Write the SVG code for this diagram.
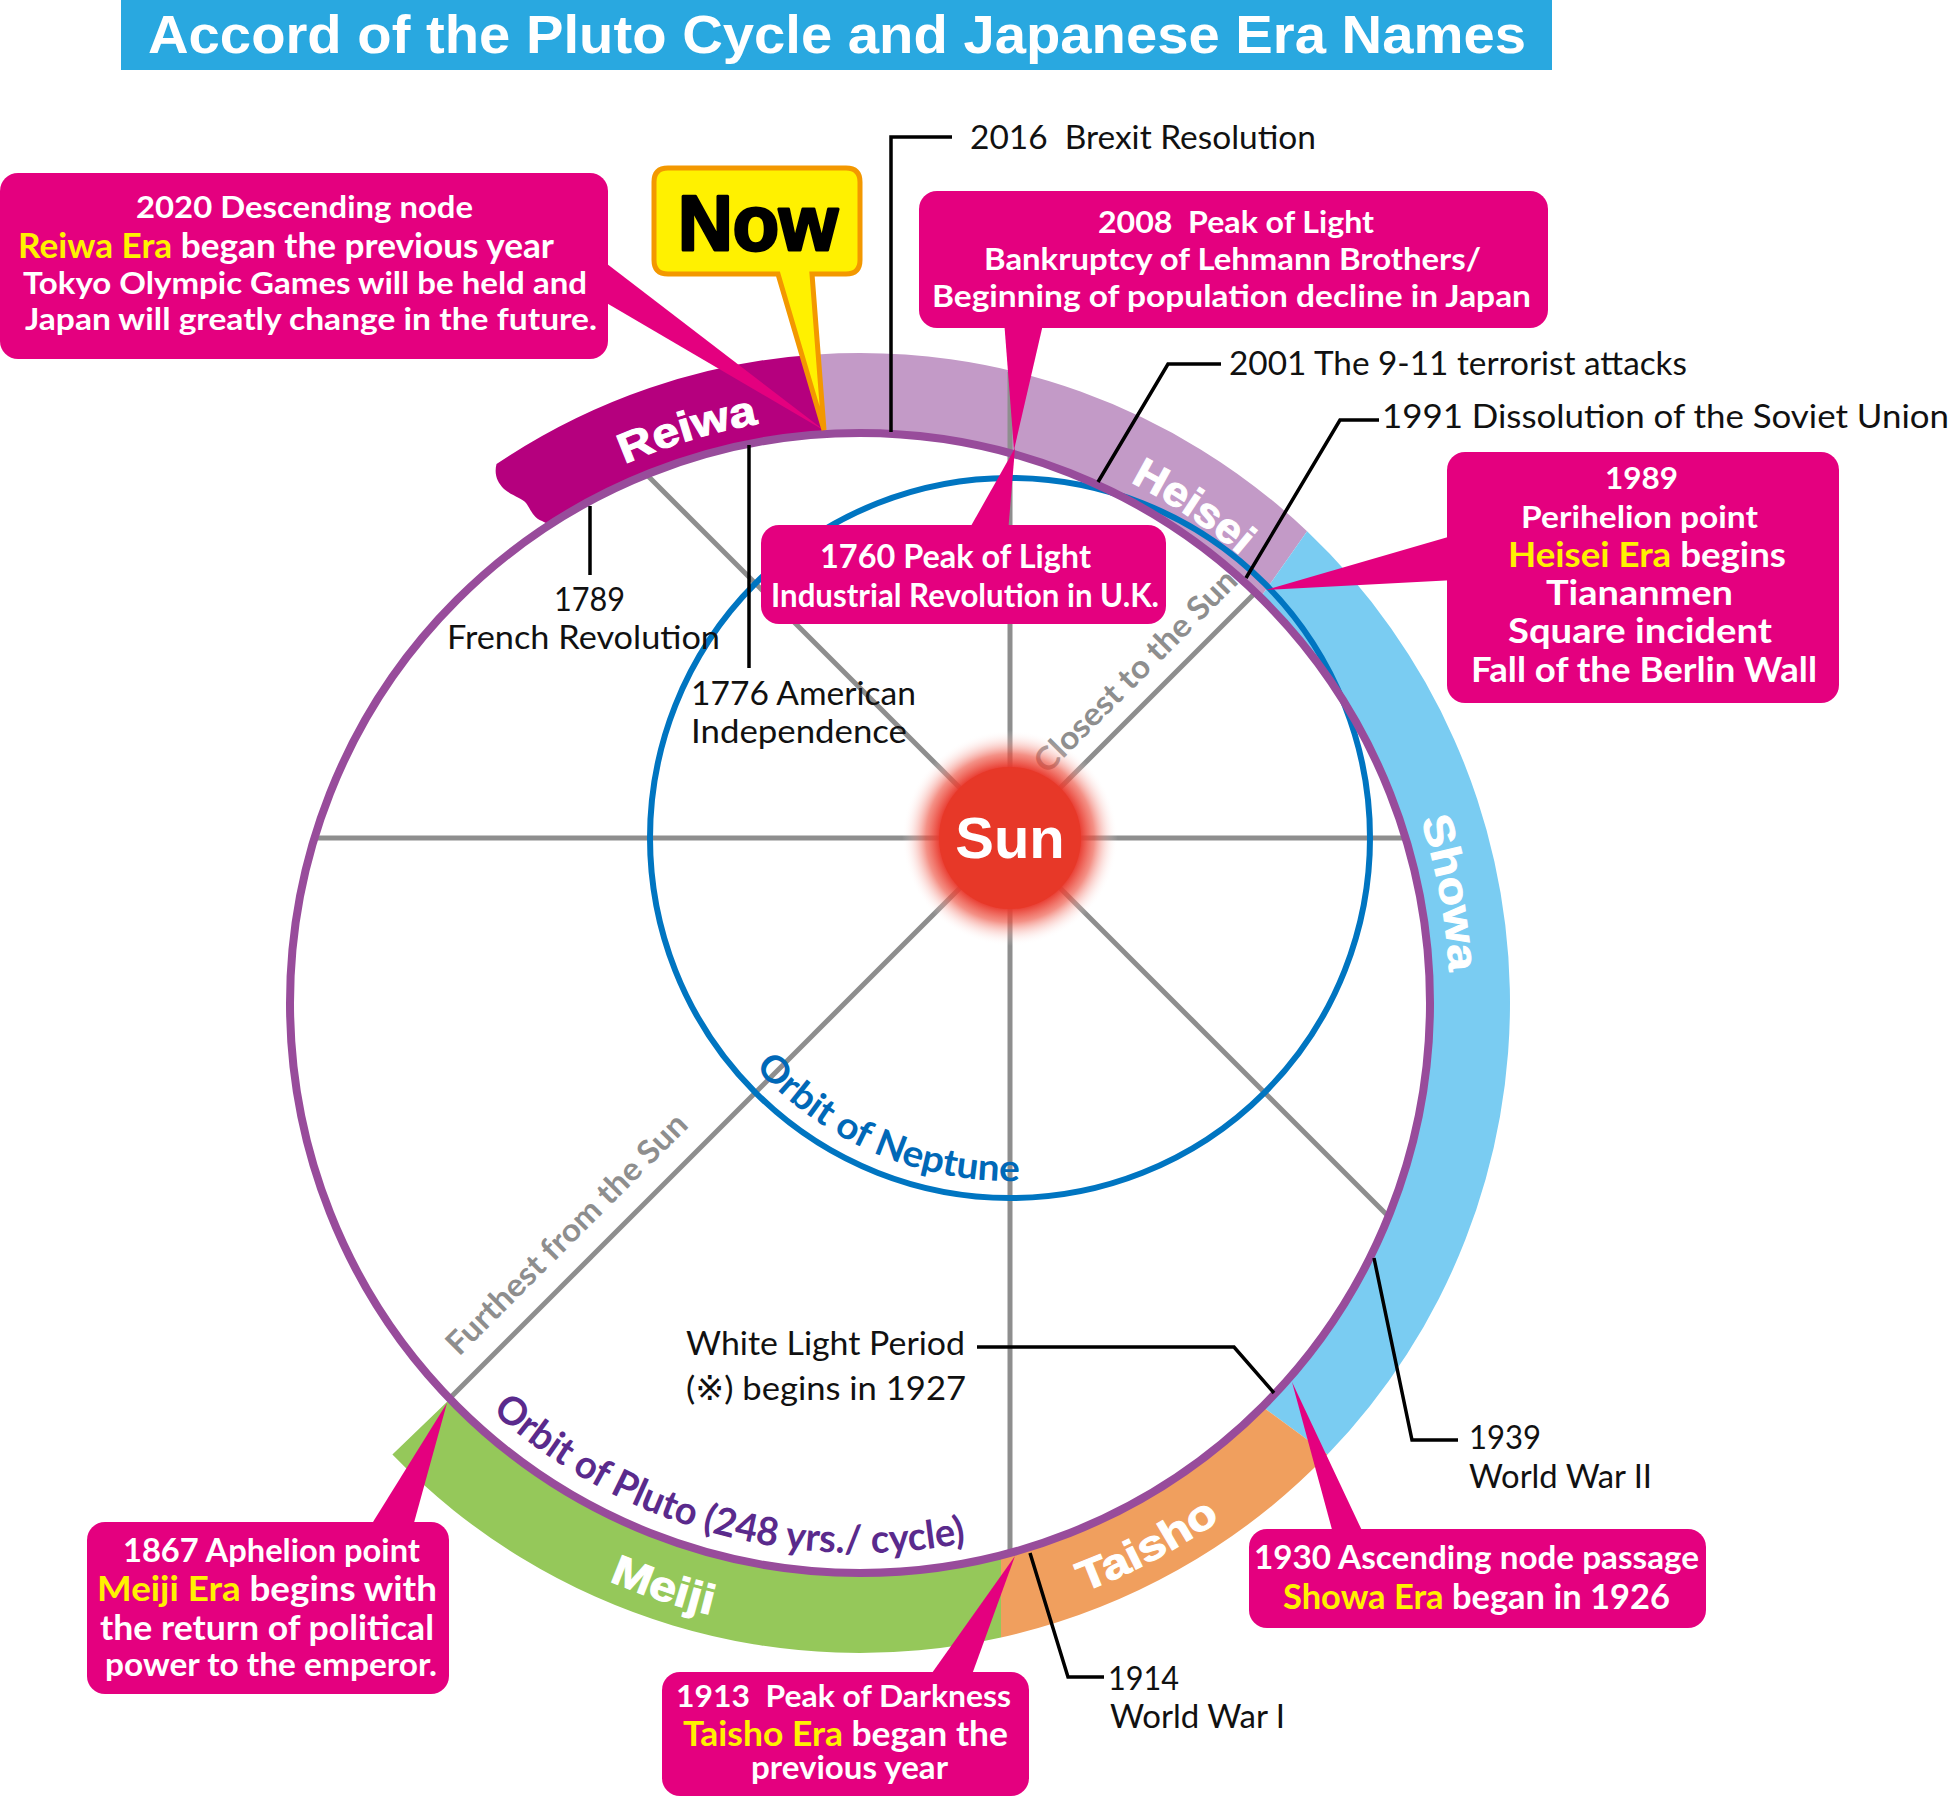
<svg xmlns="http://www.w3.org/2000/svg" width="1953" height="1799" viewBox="0 0 1953 1799">
<style>
.lbl{font-family:Lato,"Open Sans","Noto Sans",sans-serif;font-size:33px;fill:#111;}
.co{font-family:Lato,"Open Sans","Noto Sans",sans-serif;font-weight:700;fill:#fff;}
.yl{fill:#FFF100;}
.box{fill:#E4007F;}
.era{font-family:"Liberation Sans",Arial,sans-serif;font-weight:bold;font-size:42px;fill:#fff;stroke:#fff;stroke-width:1;}
.spoke{stroke:#8E8E8E;stroke-width:5;fill:none;}
.conn{stroke:#000;stroke-width:3.5;fill:none;}
.diag{font-family:Lato,"Open Sans","Noto Sans",sans-serif;font-weight:bold;font-size:32px;fill:#8E8E8E;}
.orb{font-family:Lato,"Open Sans","Noto Sans",sans-serif;font-weight:bold;}
</style>
<defs>
<radialGradient id="glow" cx="0.5" cy="0.5" r="0.5">
<stop offset="0.64" stop-color="#E8352A" stop-opacity="1"/>
<stop offset="0.78" stop-color="#EE5545" stop-opacity="0.65"/>
<stop offset="1" stop-color="#FFFFFF" stop-opacity="0"/>
</radialGradient>
<path id="pNep" d="M 755.1 1067.5 A 343 343 0 0 0 1069.6 1175.8"/>
<path id="pPlu" d="M 492 1411.7 A 549 549 0 0 0 1048.1 1519.8"/>
<path id="pRei" d="M 624.6 464.2 A 588 588 0 0 1 911.2 417.2"/>
<path id="pHei" d="M 1130.1 481.9 A 587 587 0 0 1 1368.4 709.5"/>
<path id="pSho" d="M 1420.8 819.7 A 590 590 0 0 1 1414.4 1204.8"/>
<path id="pTai" d="M 1083.7 1591.9 A 630 630 0 0 0 1452 1218.5"/>
<path id="pMei" d="M 608.8 1580.8 A 630 630 0 0 0 1175 1548.6"/>
</defs>

<g id="title">
<rect x="121" y="0" width="1431" height="70" fill="#29A8E0"/>
<text x="148" y="53" font-family="'Liberation Sans',Arial,sans-serif" font-weight="bold" font-size="54" fill="#fff" textLength="1378" lengthAdjust="spacingAndGlyphs">Accord of the Pluto Cycle and Japanese Era Names</text>
</g>

<g id="bands">
<path id="band-reiwa" fill="#B5007E" d="M 496.5 464.1 A 650 650 0 0 1 816.9 354.4 L 825.2 434.1 A 570 570 0 0 0 549.6 524.9 L 542 521 C 533 518 530 508 526 503 C 522 498 512 496 504 489 C 497 482 494 474 496.5 464.1 Z"/>
<path id="band-heisei" fill="#C39AC7" d="M 816.9 354.4 A 650 650 0 0 1 1307.1 531.2 L 1260.5 597.4 A 570 570 0 0 0 825.2 434.1 Z"/>
<path id="band-showa" fill="#7ACCF2" d="M 1307.1 531.2 A 650 650 0 0 1 1327.5 1454.6 L 1262.4 1406.7 A 570 570 0 0 0 1260.5 597.4 Z"/>
<path id="band-taisho" fill="#F09F5E" d="M 1327.5 1454.6 A 650 650 0 0 1 1001 1637.5 L 1001 1555.3 A 570 570 0 0 0 1262.4 1406.7 Z"/>
<path id="band-meiji" fill="#95C85A" d="M 1001 1637.5 A 650 650 0 0 1 392.4 1454.6 L 450 1399 A 570 570 0 0 0 1001 1555.3 Z"/>
</g>

<g id="spokes">
<line class="spoke" x1="1010" y1="838" x2="1405.6" y2="838"/>
<line class="spoke" x1="1010" y1="838" x2="314.4" y2="838"/>
<line class="spoke" x1="1010" y1="838" x2="1010" y2="372"/>
<line class="spoke" x1="1010" y1="838" x2="1010" y2="1552.9"/>
<line class="spoke" x1="1010" y1="838" x2="646.5" y2="474.5"/>
<line class="spoke" x1="1010" y1="838" x2="1255.5" y2="592.5"/>
<line class="spoke" x1="1010" y1="838" x2="1388.5" y2="1216.5"/>
<line class="spoke" x1="1010" y1="838" x2="449.5" y2="1398.5"/>
</g>

<g id="neptune-orbit">
<circle cx="1010" cy="838" r="360" fill="none" stroke="#0075C1" stroke-width="6"/>
<text class="orb" font-size="37" fill="#0068B7"><textPath href="#pNep" textLength="297" lengthAdjust="spacingAndGlyphs">Orbit of Neptune</textPath></text>
</g>

<g id="pluto-orbit">
<circle cx="860" cy="1003" r="570" fill="none" stroke="#984C9B" stroke-width="8"/>
<text class="orb" font-size="39" fill="#5A2A8C"><textPath href="#pPlu" textLength="510" lengthAdjust="spacingAndGlyphs">Orbit of Pluto (248 yrs./ cycle)</textPath></text>
</g>

<g id="axis-labels">
<text class="diag" x="1047" y="775" transform="rotate(-45 1047 775)" textLength="272" lengthAdjust="spacingAndGlyphs">Closest to the Sun</text>
<text class="diag" x="459" y="1357" transform="rotate(-45 459 1357)" textLength="326" lengthAdjust="spacingAndGlyphs">Furthest from the Sun</text>
</g>

<g id="sun">
<circle cx="1010" cy="838" r="108" fill="url(#glow)"/>
<circle cx="1010" cy="838" r="71" fill="#E73828"/>
<text x="1010" y="858" text-anchor="middle" font-family="'Liberation Sans',Arial,sans-serif" font-weight="bold" font-size="58" fill="#fff">Sun</text>
</g>

<g id="era-labels">
<text class="era"><textPath href="#pRei" textLength="140" lengthAdjust="spacingAndGlyphs">Reiwa</textPath></text>
<text class="era"><textPath href="#pHei" textLength="133" lengthAdjust="spacingAndGlyphs">Heisei</textPath></text>
<text class="era"><textPath href="#pSho" textLength="155" lengthAdjust="spacingAndGlyphs">Showa</textPath></text>
<text class="era"><textPath href="#pTai" textLength="155" lengthAdjust="spacingAndGlyphs">Taisho</textPath></text>
<text class="era"><textPath href="#pMei" textLength="108" lengthAdjust="spacingAndGlyphs">Meiji</textPath></text>
</g>

<g id="connectors">
<path class="conn" d="M 952 137 H 891 V 432"/>
<path class="conn" d="M 1221 364 H 1168 L 1098 482"/>
<path class="conn" d="M 1379 420 H 1340 L 1246 578"/>
<path class="conn" d="M 590 506 V 575"/>
<path class="conn" d="M 749 445 V 668"/>
<path class="conn" d="M 977 1347 H 1234 L 1274 1393"/>
<path class="conn" d="M 1374 1258 L 1412 1440 H 1458"/>
<path class="conn" d="M 1030 1553 L 1068 1677 H 1104"/>
</g>

<g id="event-labels">
<text class="lbl" x="970" y="149" xml:space="preserve" textLength="346" lengthAdjust="spacingAndGlyphs">2016  Brexit Resolution</text>
<text class="lbl" x="1229" y="375" textLength="458" lengthAdjust="spacingAndGlyphs">2001 The 9-11 terrorist attacks</text>
<text class="lbl" x="1382" y="428" textLength="567" lengthAdjust="spacingAndGlyphs">1991 Dissolution of the Soviet Union</text>
<text class="lbl" x="554" y="611" textLength="71" lengthAdjust="spacingAndGlyphs">1789</text>
<text class="lbl" x="447" y="649" textLength="273" lengthAdjust="spacingAndGlyphs">French Revolution</text>
<text class="lbl" x="691" y="705" textLength="225" lengthAdjust="spacingAndGlyphs">1776 American</text>
<text class="lbl" x="691" y="743" textLength="216" lengthAdjust="spacingAndGlyphs">Independence</text>
<text class="lbl" x="686" y="1355" font-size="31" textLength="279" lengthAdjust="spacingAndGlyphs">White Light Period</text>
<text class="lbl" x="686" y="1400" font-size="31" style="font-family:Lato,'DejaVu Sans',sans-serif" textLength="280" lengthAdjust="spacingAndGlyphs">(※) begins in 1927</text>
<text class="lbl" x="1469" y="1449" textLength="72" lengthAdjust="spacingAndGlyphs">1939</text>
<text class="lbl" x="1469" y="1488" textLength="183" lengthAdjust="spacingAndGlyphs">World War II</text>
<text class="lbl" x="1108" y="1690" textLength="71" lengthAdjust="spacingAndGlyphs">1914</text>
<text class="lbl" x="1110" y="1728" textLength="175" lengthAdjust="spacingAndGlyphs">World War I</text>
</g>

<g id="callout-2020">
<rect class="box" x="0" y="173" width="608" height="186" rx="18"/>
<polygon class="box" points="598,257 598,298 825,431"/>
<text class="co" x="136" y="218" font-size="30" textLength="337" lengthAdjust="spacingAndGlyphs">2020 Descending node</text>
<text class="co" x="18" y="258" font-size="35" textLength="536" lengthAdjust="spacingAndGlyphs"><tspan class="yl">Reiwa Era</tspan> began the previous year</text>
<text class="co" x="23" y="294" font-size="31" textLength="564" lengthAdjust="spacingAndGlyphs">Tokyo Olympic Games will be held and</text>
<text class="co" x="25" y="330" font-size="31" textLength="572" lengthAdjust="spacingAndGlyphs">Japan will greatly change in the future.</text>
</g>

<g id="callout-now">
<path d="M 668 168 H 846 Q 860 168 860 182 V 260 Q 860 274 846 274 H 812 L 824 430 L 778 274 H 668 Q 654 274 654 260 V 182 Q 654 168 668 168 Z" fill="#FFF100" stroke="#F39800" stroke-width="5"/>
<text x="678" y="250" font-family="'Liberation Sans',Arial,sans-serif" font-weight="bold" font-size="78" fill="#000" stroke="#000" stroke-width="3" stroke-linejoin="round" textLength="160" lengthAdjust="spacingAndGlyphs">Now</text>
</g>

<g id="callout-2008">
<rect class="box" x="919" y="191" width="629" height="137" rx="18"/>
<polygon class="box" points="1004,320 1044,320 1014,450"/>
<text class="co" x="1098" y="233" xml:space="preserve" font-size="30" textLength="276" lengthAdjust="spacingAndGlyphs">2008  Peak of Light</text>
<text class="co" x="984" y="270" font-size="30" textLength="497" lengthAdjust="spacingAndGlyphs">Bankruptcy of Lehmann Brothers/</text>
<text class="co" x="932" y="307" font-size="30" textLength="599" lengthAdjust="spacingAndGlyphs">Beginning of population decline in Japan</text>
</g>

<g id="callout-1760">
<rect class="box" x="761" y="525" width="405" height="99" rx="18"/>
<polygon class="box" points="967,533 1008,533 1015,448"/>
<text class="co" x="820" y="568" font-size="32" textLength="271" lengthAdjust="spacingAndGlyphs">1760 Peak of Light</text>
<text class="co" x="771" y="607" font-size="32" textLength="388" lengthAdjust="spacingAndGlyphs">Industrial Revolution in U.K.</text>
</g>

<g id="callout-1989">
<rect class="box" x="1447" y="452" width="392" height="251" rx="18"/>
<polygon class="box" points="1455,535 1455,580 1266,590"/>
<text class="co" x="1605" y="489" font-size="30" textLength="73" lengthAdjust="spacingAndGlyphs">1989</text>
<text class="co" x="1521" y="528" font-size="31" textLength="237" lengthAdjust="spacingAndGlyphs">Perihelion point</text>
<text class="co" x="1508" y="567" font-size="35" textLength="278" lengthAdjust="spacingAndGlyphs"><tspan class="yl">Heisei Era</tspan> begins</text>
<text class="co" x="1546" y="605" font-size="35" textLength="187" lengthAdjust="spacingAndGlyphs">Tiananmen</text>
<text class="co" x="1508" y="643" font-size="34" textLength="264" lengthAdjust="spacingAndGlyphs">Square incident</text>
<text class="co" x="1471" y="682" font-size="34" textLength="346" lengthAdjust="spacingAndGlyphs">Fall of the Berlin Wall</text>
</g>

<g id="callout-1930">
<rect class="box" x="1249" y="1529" width="457" height="99" rx="18"/>
<polygon class="box" points="1334,1537 1365,1537 1292,1382"/>
<text class="co" x="1254" y="1569" font-size="32" textLength="445" lengthAdjust="spacingAndGlyphs">1930 Ascending node passage</text>
<text class="co" x="1283" y="1609" font-size="34" textLength="387" lengthAdjust="spacingAndGlyphs"><tspan class="yl">Showa Era</tspan> began in 1926</text>
</g>

<g id="callout-1913">
<rect class="box" x="662" y="1672" width="367" height="124" rx="18"/>
<polygon class="box" points="927,1680 970,1680 1015,1556"/>
<text class="co" x="676" y="1707" xml:space="preserve" font-size="31" textLength="335" lengthAdjust="spacingAndGlyphs">1913  Peak of Darkness</text>
<text class="co" x="683" y="1746" font-size="34" textLength="325" lengthAdjust="spacingAndGlyphs"><tspan class="yl">Taisho Era</tspan> began the</text>
<text class="co" x="751" y="1779" font-size="32" textLength="197" lengthAdjust="spacingAndGlyphs">previous year</text>
</g>

<g id="callout-1867">
<rect class="box" x="87" y="1522" width="362" height="172" rx="18"/>
<polygon class="box" points="368,1530 412,1530 447,1403"/>
<text class="co" x="123" y="1562" font-size="33" textLength="297" lengthAdjust="spacingAndGlyphs">1867 Aphelion point</text>
<text class="co" x="97" y="1601" font-size="35" textLength="340" lengthAdjust="spacingAndGlyphs"><tspan class="yl">Meiji Era</tspan> begins with</text>
<text class="co" x="100" y="1640" font-size="35" textLength="334" lengthAdjust="spacingAndGlyphs">the return of political</text>
<text class="co" x="105" y="1676" font-size="33" textLength="332" lengthAdjust="spacingAndGlyphs">power to the emperor.</text>
</g>
</svg>
